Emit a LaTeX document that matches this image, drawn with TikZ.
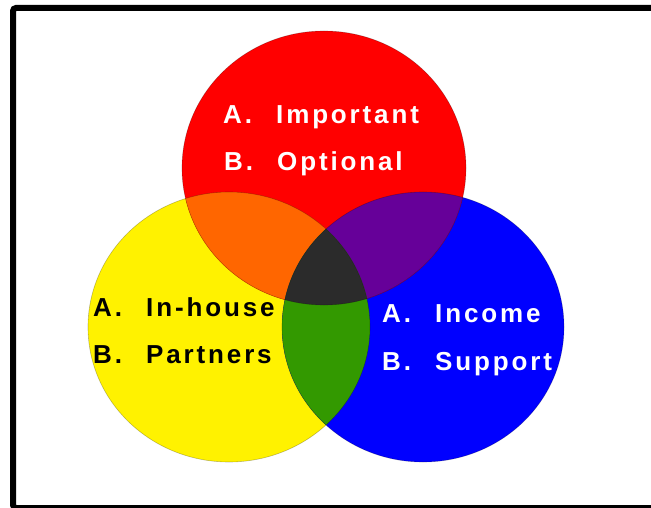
\documentclass[tikz,border=0pt]{standalone}
\usepackage{fontspec}
\setmainfont{Liberation Sans}
\usetikzlibrary{positioning}

\definecolor{setorange}{HTML}{FF6600}
\definecolor{setpurple}{HTML}{660099}
\definecolor{setgreen}{HTML}{339900}
\definecolor{setdark}{HTML}{2B2B2B}

% the three sets, shared by the fills and the clips
\newcommand{\redpath}{(324,168) ellipse [x radius=142, y radius=137]}
\newcommand{\yellowpath}{(229,327) ellipse [x radius=141, y radius=135]}
\newcommand{\bluepath}{(423,327) ellipse [x radius=141, y radius=135]}
\newcommand{\pitem}[2]{\makebox[53pt][l]{#1}#2}

\begin{document}
\begin{tikzpicture}[
    x = 1pt,
    y = -1pt,
    item/.style = {anchor = base west, inner sep = 0pt,
        font = \fontsize{26}{26}\selectfont\bfseries\addfontfeature{LetterSpace=11}},
    rim/.style = {draw = black, line width = 0.6pt, draw opacity = 0.25}
]
\useasboundingbox (0,0) rectangle (651,508);

% 1. Outer frame, its right side runs off the page
\draw[line width = 6pt, rounded corners = 3pt] (13,8) rectangle (680,508);

% 2. Fill the three sets
\fill[yellow] \yellowpath;
\fill[blue] \bluepath;
\fill[red] \redpath;

% 3. Overlaps of two sets
\begin{scope}
    \clip \redpath;
    \fill[setorange] \yellowpath;
    \fill[setpurple] \bluepath;
\end{scope}
\begin{scope}
    \clip \yellowpath;
    \fill[setgreen] \bluepath;
\end{scope}

% 4. Middle where all three meet
\begin{scope}
    \clip \redpath;
    \clip \yellowpath;
    \fill[setdark] \bluepath;
\end{scope}

% 5. Thin rims round each set
\draw[rim] \yellowpath;
\draw[rim] \bluepath;
\draw[rim] \redpath;

% 6. The lists inside each set
\node[item, white] (important) at (223,124) {\pitem{A.}{Important}};
\node[item, white] (optional) at (224,171) {\pitem{B.}{Optional}};

\node[item] (inhouse) at (93,316) {\pitem{A.}{In-house}};
\node[item] (partners) at (93,363) {\pitem{B.}{Partners}};

\node[item, white] (income) at (382,322) {\pitem{A.}{Income}};
\node[item, white] (support) at (382,370) {\pitem{B.}{Support}};

\end{tikzpicture}
\end{document}
